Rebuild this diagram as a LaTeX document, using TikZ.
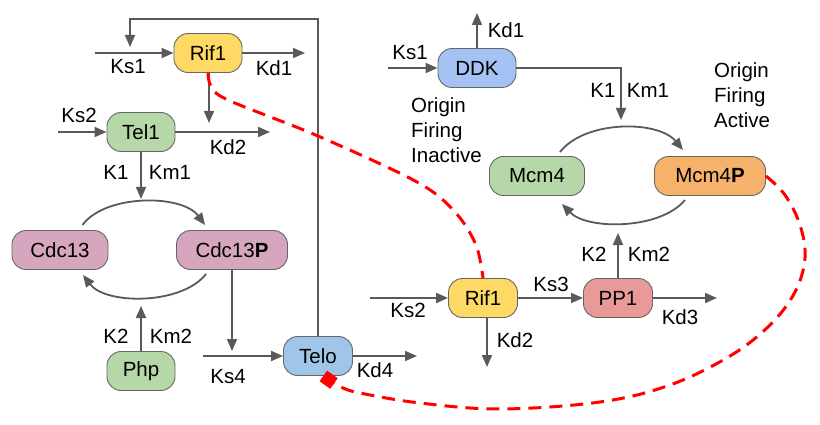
\documentclass[tikz,border=0pt]{standalone}
\usepackage{fontspec}
\setmainfont{Liberation Sans}
\usetikzlibrary{arrows.meta}
\definecolor{linegray}{HTML}{595959}
\definecolor{bordergray}{HTML}{666666}
\definecolor{cyellow}{HTML}{FFD966}
\definecolor{cgreen}{HTML}{B6D7A8}
\definecolor{cpink}{HTML}{D5A6BD}
\definecolor{cblue}{HTML}{9FC5E8}
\definecolor{cblueb}{HTML}{A4C2F4}
\definecolor{corange}{HTML}{F6B26B}
\definecolor{cred}{HTML}{EA9999}
\definecolor{dashred}{HTML}{FF0000}
\tikzset{
  box/.style={draw=bordergray, line width=0.9pt, rounded corners=14pt, minimum height=39pt, inner sep=0pt, font=\fontsize{20.5}{24}\selectfont},
  lbl/.style={inner sep=0pt, font=\fontsize{20.5}{24}\selectfont},
  txt/.style={inner sep=0pt, align=left, anchor=west, font=\fontsize{20.5}{25}\selectfont},
  arr/.style={draw=linegray, line width=1.8pt, -{Triangle[length=12pt,width=10pt]}},
  ln/.style={draw=linegray, line width=1.8pt},
  reddash/.style={draw=dashred, line width=3pt, dash pattern=on 13pt off 8pt}
}
\begin{document}
\begin{tikzpicture}[x=1pt,y=-1pt]
\useasboundingbox (0,0) rectangle (820,425);
% nodes
\node[box, fill=cyellow, minimum width=68pt] (rifA) at (208,53) {Rif1};
\node[box, fill=cgreen, minimum width=68pt] (tel1) at (141,132) {Tel1};
\node[box, fill=cpink, minimum width=96pt] (cdc) at (60,250) {Cdc13};
\node[box, fill=cpink, minimum width=111pt] (cdcP) at (232,250) {Cdc13\textbf{P}};
\node[box, fill=cgreen, minimum width=68pt] (php) at (141,371) {Php};
\node[box, fill=cblue, minimum width=69pt] (telo) at (318,356) {Telo};
\node[box, fill=cblueb, minimum width=78pt] (ddk) at (477,68) {DDK};
\node[box, fill=cgreen, minimum width=95pt] (mcm) at (537,176) {Mcm4};
\node[box, fill=corange, minimum width=111pt] (mcmP) at (710,176) {Mcm4\textbf{P}};
\node[box, fill=cyellow, minimum width=69pt] (rifB) at (483,298) {Rif1};
\node[box, fill=cred, minimum width=69pt] (pp1) at (618,298) {PP1};

% texts
\node[txt] (inact) at (411,130) {Origin\\Firing\\Inactive};
\node[txt] (act) at (714,95) {Origin\\Firing\\Active};

% coordinates
\coordinate (ks1in) at (95,53);
\coordinate (kd1out) at (305,53);
\coordinate (fbtop) at (318,19);
\coordinate (fbleft) at (130,19);
\coordinate (fbend) at (130,47);
\coordinate (rifdown) at (209,123);
\coordinate (ks2in) at (58,132);
\coordinate (kd2out) at (270,132);
\coordinate (teldown) at (141,199);
\coordinate (phpup) at (141,306);
\coordinate (cdcdown) at (232,351);
\coordinate (ks4in) at (203,356);
\coordinate (kd4out) at (417,356);
\coordinate (ddkin) at (388,68);
\coordinate (ddkup) at (477,13);
\coordinate (ddkcorner) at (621,68);
\coordinate (ddkdown) at (621,120);
\coordinate (rifBin) at (370,298);
\coordinate (rifBdown) at (487,367);
\coordinate (pp1up) at (618,233);
\coordinate (kd3out) at (717,298);

% left part
\draw[arr] (ks1in) -- (rifA);
\draw[arr] (rifA) -- (kd1out);
\draw[arr] (telo.north) -- (fbtop) -- (fbleft) -- (fbend);
\draw[arr] (rifA.south -| rifdown) -- (rifdown);
\draw[arr] (ks2in) -- (tel1);
\draw[arr] (tel1) -- (kd2out);
\draw[arr] (tel1.south) -- (teldown);
\draw[arr] (cdc.north east) ++(-26,-5) .. controls (105,194) and (182,194) .. (205,225);
\draw[arr] (cdcP.south west) ++(30,4) .. controls (182,305) and (106,305) .. (83,275);
\draw[arr] (php.north) -- (phpup);
\draw[arr] (cdcP.south) -- (cdcdown);
\draw[arr] (ks4in) -- (telo);
\draw[arr] (telo) -- (kd4out);

% right part
\draw[arr] (ddkin) -- (ddk);
\draw[arr] (ddk.north) -- (ddkup);
\draw[arr] (ddk.east) -- (ddkcorner) -- (ddkdown);
\draw[arr] (560,152) .. controls (585,120) and (658,120) .. (683,150);
\draw[arr] (685,200) .. controls (660,230) and (587,230) .. (562,204);
\draw[arr] (pp1.north) -- (pp1up);
\draw[arr] (rifBin) -- (rifB);
\draw[arr] (rifB) -- (pp1);
\draw[arr] (rifB.south -| rifBdown) -- (rifBdown);
\draw[arr] (pp1) -- (kd3out);

% labels
\node[lbl] (l1) at (128,67) {Ks1};
\node[lbl] (l2) at (274,68) {Kd1};
\node[lbl] (l3) at (79,115) {Ks2};
\node[lbl] (l4) at (228,147) {Kd2};
\node[lbl] (l5) at (116,172) {K1};
\node[lbl] (l6) at (170,172) {Km1};
\node[lbl] (l7) at (116,336) {K2};
\node[lbl] (l8) at (171,336) {Km2};
\node[lbl] (l9) at (228,377) {Ks4};
\node[lbl] (l10) at (375,370) {Kd4};
\node[lbl] (r1) at (410,53) {Ks1};
\node[lbl] (r2) at (506,30) {Kd1};
\node[lbl] (r3) at (603,90) {K1};
\node[lbl] (r4) at (648,90) {Km1};
\node[lbl] (r5) at (408,310) {Ks2};
\node[lbl] (r6) at (551,284) {Ks3};
\node[lbl] (r7) at (515,340) {Kd2};
\node[lbl] (r8) at (594,254) {K2};
\node[lbl] (r9) at (649,254) {Km2};
\node[lbl] (r10) at (680,317) {Kd3};

% red dashed connections
\draw[reddash] plot[smooth, tension=0.55] coordinates {(rifA.south) (211,86) (228,100) (318,136) (417,182) (455,212) (476,245) (rifB.north)};
\draw[reddash, -{Square[length=13pt,width=13pt]}] plot[smooth, tension=0.6] coordinates {(mcmP.east) (785,195) (800,225) (805,258) (795,292) (770,325) (730,356) (670,385) (600,402) (500,409) (420,403) (365,394) (343,388) (telo.-75)};
\end{tikzpicture}
\end{document}
